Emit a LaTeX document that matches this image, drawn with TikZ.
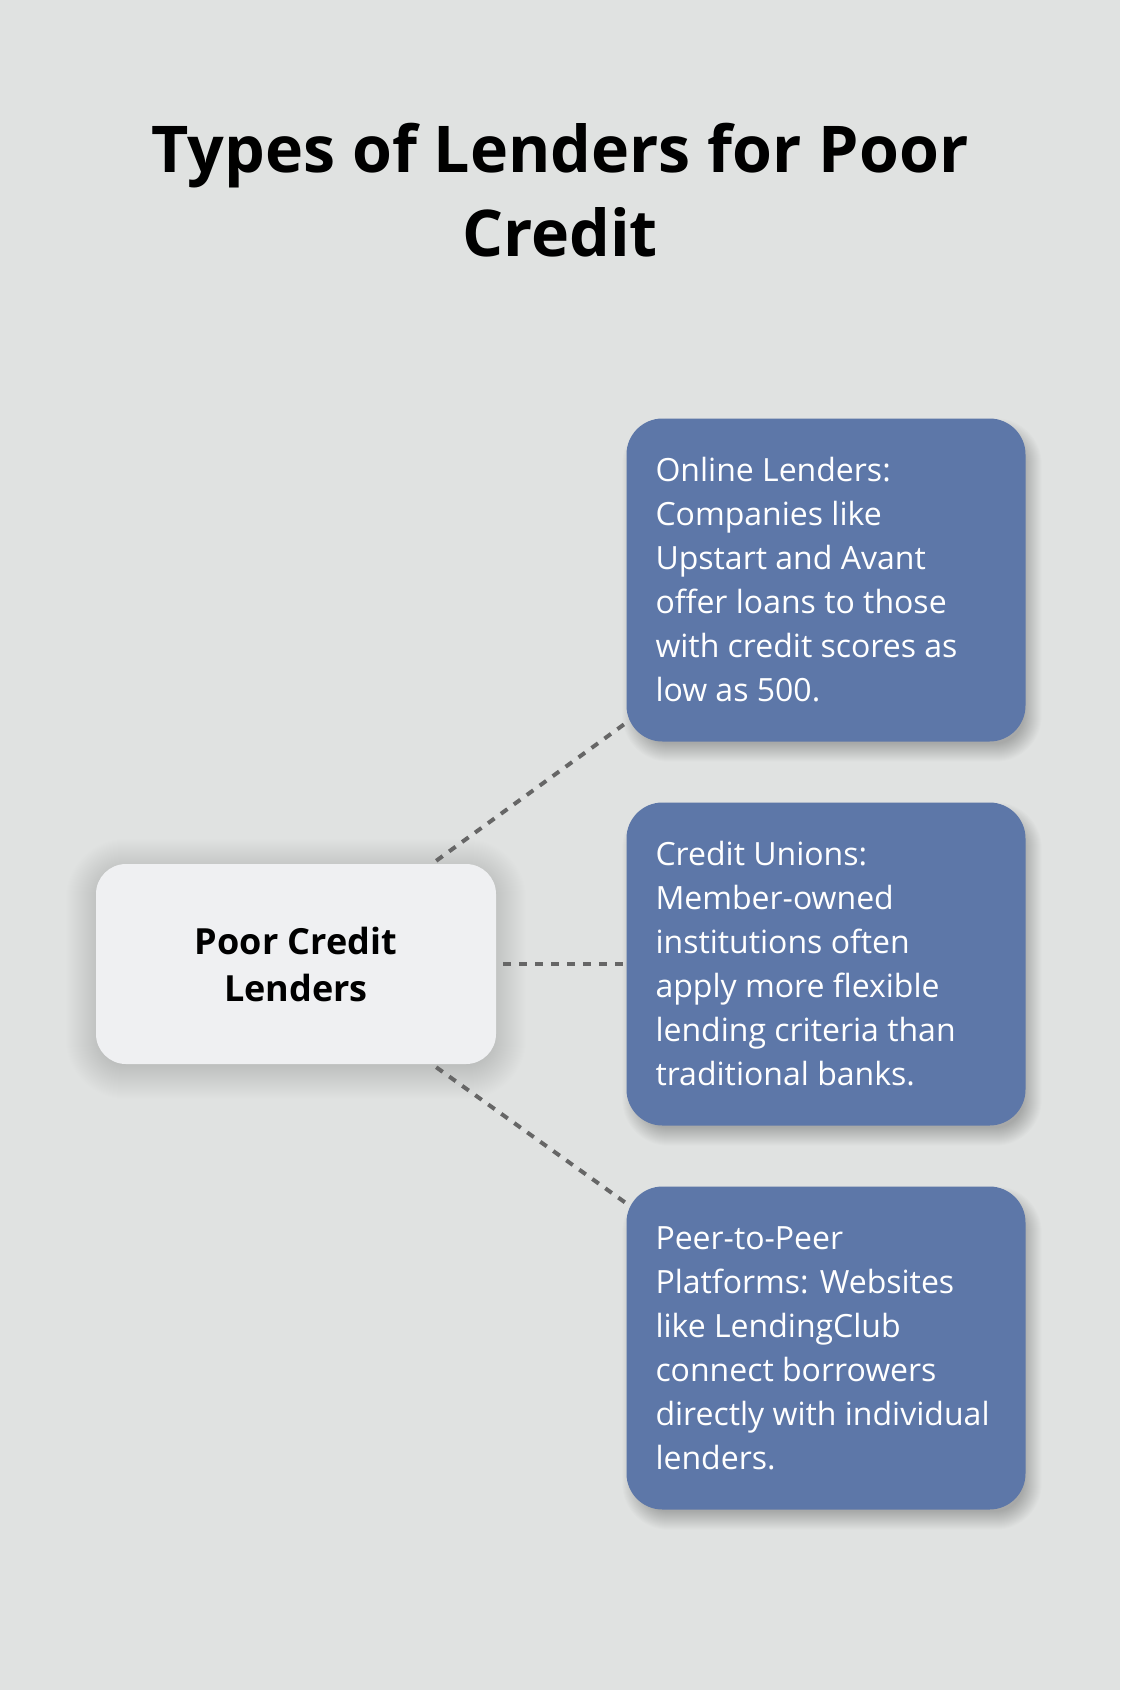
\documentclass[tikz,border=0pt]{standalone}
\usepackage{fontspec}
\setmainfont{Open Sans}
\usetikzlibrary{calc}
\pgfdeclarelayer{back}
\pgfdeclarelayer{shadowlayer}
\pgfsetlayers{back,shadowlayer,main}
\definecolor{bg}{HTML}{E0E2E1}
\definecolor{bluebox}{HTML}{5D77A8}
\definecolor{lightbox}{HTML}{EFF0F2}
\definecolor{dotline}{HTML}{666666}
\tikzset{
  infobox/.style={fill=bluebox, rounded corners=36pt, minimum width=399pt, minimum height=323pt},
  infotext/.style={anchor=west, text=white, align=left, inner sep=0pt,
    font=\fontsize{32}{44}\selectfont},
  hubbox/.style={fill=lightbox, rounded corners=30pt, minimum width=400pt, minimum height=200pt,
    align=center, font=\bfseries\fontsize{36}{47}\selectfont},
  titletext/.style={align=center, font=\bfseries\fontsize{64.5}{84}\selectfont},
  link/.style={draw=dotline, line width=4pt, dash pattern=on 8pt off 8pt}
}
% node, dx, dy, first expansion, last expansion, opacity, radius
\newcommand{\softshadow}[7]{%
  \foreach \k in {#4,...,#5}{
    \fill[black, fill opacity=#6, rounded corners=#7+\k*1pt]
      ($(#1.north west)+(#2-\k,#3-\k)$) rectangle ($(#1.south east)+(#2+\k,#3+\k)$);
  }%
}
\begin{document}
\begin{tikzpicture}[x=1pt,y=-1pt]
\begin{pgfonlayer}{back}
\fill[bg] (0,0) rectangle (1120,1690);
\end{pgfonlayer}
\useasboundingbox (0,0) rectangle (1120,1690);
\node[titletext] (title) at (560,190) {Types of Lenders for Poor\\Credit};
\node[hubbox] (hub) at (296,964) {Poor Credit\\Lenders};
\node[infobox] (b1) at (826,580) {};
\node[infobox] (b2) at (826,964) {};
\node[infobox] (b3) at (826,1348) {};
\node[infotext] (t1) at ($(b1.west)+(29,0)$) {Online Lenders:\\Companies like\\Upstart and Avant\\offer loans to those\\with credit scores as\\low as 500.};
\node[infotext] (t2) at ($(b2.west)+(29,0)$) {Credit Unions:\\Member-owned\\institutions often\\apply more flexible\\lending criteria than\\traditional banks.};
\node[infotext] (t3) at ($(b3.west)+(29,0)$) {Peer-to-Peer\\Platforms: Websites\\like LendingClub\\connect borrowers\\directly with individual\\lenders.};
\begin{pgfonlayer}{shadowlayer}
\softshadow{b1}{6}{10}{-8}{10}{0.013}{36pt}
\softshadow{b2}{6}{10}{-8}{10}{0.013}{36pt}
\softshadow{b3}{6}{10}{-8}{10}{0.013}{36pt}
\softshadow{hub}{0}{5}{-6}{30}{0.0045}{30pt}
\end{pgfonlayer}
\draw[link] ($(hub.north east)+(-60,-3)$) -- ($(b1.south west)+(0,-19)$);
\draw[link] ($(hub.east)+(7,0)$) -- ($(b2.west)+(-3,0)$);
\draw[link] ($(hub.south east)+(-60,3)$) -- ($(b3.north west)+(0,17)$);
\end{tikzpicture}
\end{document}
